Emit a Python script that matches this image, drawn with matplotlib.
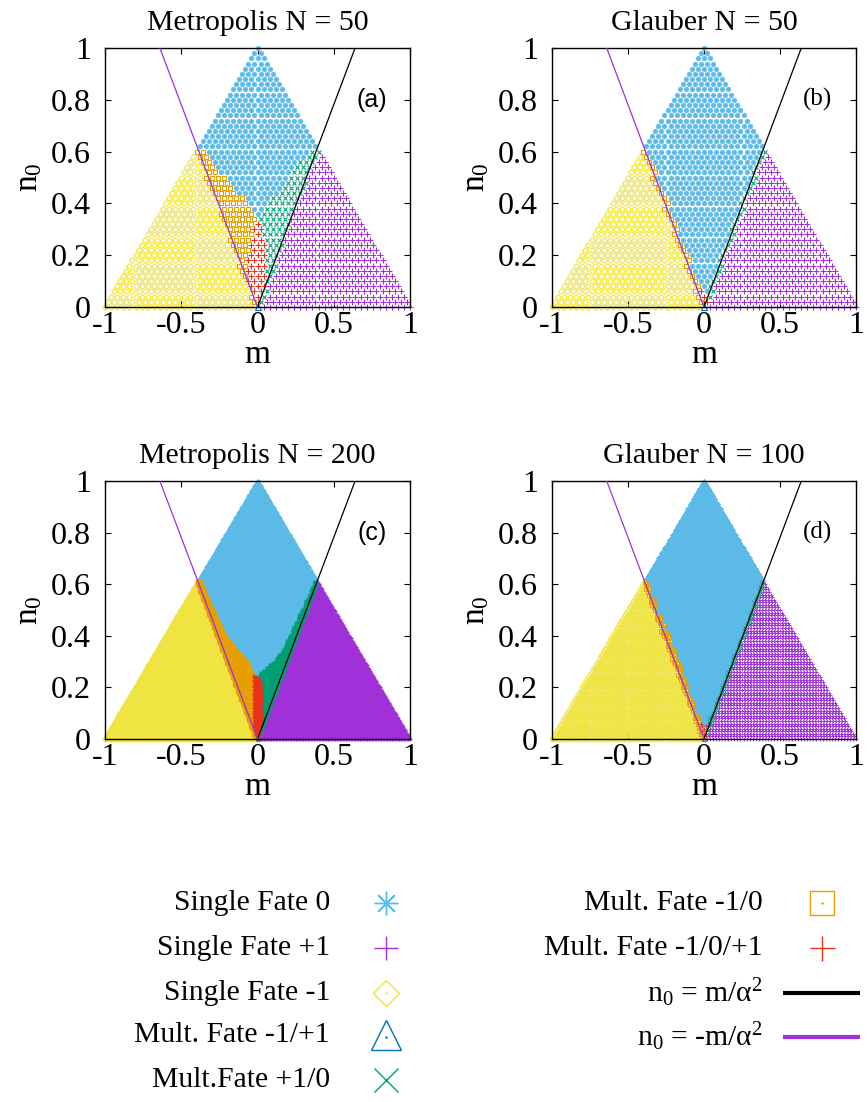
import numpy as np
import matplotlib
matplotlib.use("Agg")
import matplotlib.pyplot as plt

plt.rcParams['font.family'] = ['Liberation Serif', 'DejaVu Serif']
plt.rcParams['mathtext.fontset'] = 'custom'
plt.rcParams['mathtext.rm'] = 'Liberation Serif'
plt.rcParams['mathtext.it'] = 'Liberation Serif:italic'

# ---------------- data ----------------
ALPHA2 = 0.64                      # alpha^2 for the two lines n0 = +-m/alpha^2
TITLES = ['Metropolis N = 50', 'Glauber N = 50', 'Metropolis N = 200', 'Glauber N = 100']
PANEL_LABELS = ['(a)', '(b)', '(c)', '(d)']
SYSTEM_N = [50, 50, 200, 100]
X_TICKS = [-1, -0.5, 0, 0.5, 1]
X_TICK_LABELS = ['-1', '-0.5', '0', '0.5', '1']
Y_TICKS = [0, 0.2, 0.4, 0.6, 0.8, 1]
Y_TICK_LABELS = ['0', '0.2', '0.4', '0.6', '0.8', '1']
N0_TOP_MIXED = 0.61                # above this n0 every state has single fate 0

# region boundaries in m at the n0 knots
# yellow | orange | red | blue | green | purple
KNOTS_A = [0.0, 0.05, 0.1, 0.15, 0.2, 0.25, 0.3, 0.35, 0.4, 0.45, 0.5, 0.55, 0.6]
YO_A = [-0.03, -0.05, -0.085, -0.115, -0.145, -0.175, -0.205, -0.235, -0.275, -0.315, -0.345, -0.375, -0.415]
OR_A = [-0.01, -0.03, -0.065, -0.065, -0.065, -0.045, -0.035, -0.005, -0.045, -0.145, -0.205, -0.305, -0.355]
RB_A = [0.01, 0.035, 0.045, 0.055, 0.055, 0.045, 0.035, -0.005, -0.045, -0.145, -0.205, -0.305, -0.355]
BG_A = [0.01, 0.035, 0.045, 0.055, 0.055, 0.045, 0.035, 0.015, 0.055, 0.145, 0.195, 0.265, 0.335]
GP_A = [0.025, 0.055, 0.085, 0.115, 0.145, 0.165, 0.185, 0.225, 0.265, 0.305, 0.335, 0.375, 0.415]

KNOTS_B = [0.0, 0.05, 0.1, 0.15, 0.2, 0.25, 0.3, 0.35, 0.4, 0.45, 0.5, 0.55, 0.6]
YO_B = [-0.022, -0.054, -0.086, -0.118, -0.15, -0.182, -0.214, -0.246, -0.278, -0.31, -0.342, -0.374, -0.406]
OR_B = [-0.005, -0.015, -0.046, -0.078, -0.11, -0.142, -0.174, -0.206, -0.238, -0.27, -0.302, -0.334, -0.366]
RB_B = [0.025, 0.015, -0.046, -0.078, -0.11, -0.142, -0.174, -0.206, -0.238, -0.27, -0.302, -0.334, -0.366]
BG_B = [0.025, 0.015, 0.046, 0.078, 0.11, 0.142, 0.174, 0.206, 0.238, 0.27, 0.302, 0.334, 0.366]
GP_B = [0.03, 0.054, 0.086, 0.118, 0.15, 0.182, 0.214, 0.246, 0.278, 0.31, 0.342, 0.374, 0.406]

KNOTS_C = [0.0, 0.05, 0.1, 0.15, 0.2, 0.235, 0.25, 0.3, 0.35, 0.4, 0.45, 0.5, 0.55, 0.6]
YO_C = [-0.008, -0.04, -0.072, -0.104, -0.136, -0.158, -0.168, -0.2, -0.232, -0.264, -0.296, -0.328, -0.36, -0.392]
OR_C = [-0.005, -0.02, -0.022, -0.022, -0.022, -0.022, -0.035, -0.075, -0.155, -0.215, -0.255, -0.295, -0.335, -0.372]
RB_C = [0.005, 0.02, 0.03, 0.03, 0.025, 0.015, -0.035, -0.075, -0.155, -0.215, -0.255, -0.295, -0.335, -0.372]
BG_C = [0.005, 0.02, 0.03, 0.03, 0.025, 0.015, 0.015, 0.115, 0.175, 0.215, 0.255, 0.295, 0.335, 0.372]
GP_C = [0.008, 0.035, 0.066, 0.098, 0.13, 0.152, 0.162, 0.194, 0.226, 0.258, 0.29, 0.322, 0.354, 0.386]

KNOTS_D = [0.0, 0.05, 0.1, 0.15, 0.2, 0.25, 0.3, 0.35, 0.4, 0.45, 0.5, 0.55, 0.6]
YO_D = [-0.012, -0.044, -0.076, -0.108, -0.14, -0.172, -0.204, -0.236, -0.268, -0.3, -0.332, -0.364, -0.396]
OR_D = [-0.005, -0.015, -0.05, -0.08, -0.11, -0.14, -0.168, -0.198, -0.228, -0.265, -0.3, -0.338, -0.372]
RB_D = [0.015, 0.012, -0.05, -0.08, -0.11, -0.14, -0.168, -0.198, -0.228, -0.265, -0.3, -0.338, -0.372]
BG_D = [0.01, 0.012, 0.054, 0.086, 0.118, 0.15, 0.182, 0.214, 0.246, 0.278, 0.31, 0.342, 0.374]
GP_D = [0.012, 0.042, 0.074, 0.106, 0.138, 0.17, 0.202, 0.234, 0.266, 0.298, 0.33, 0.362, 0.394]

BOUNDS = [
    (KNOTS_A, YO_A, OR_A, RB_A, BG_A, GP_A),
    (KNOTS_B, YO_B, OR_B, RB_B, BG_B, GP_B),
    (KNOTS_C, YO_C, OR_C, RB_C, BG_C, GP_C),
    (KNOTS_D, YO_D, OR_D, RB_D, BG_D, GP_D),
]

LEGEND_LEFT = ['Single Fate 0', 'Single Fate +1', 'Single Fate -1',
               'Mult. Fate -1/+1', 'Mult.Fate +1/0']
LEGEND_RIGHT = ['Mult. Fate -1/0', 'Mult. Fate -1/0/+1',
                r'n$_0$ = m/α$^2$', r'n$_0$ = -m/α$^2$']

# ---------------- styles ----------------
C_BLUE = '#5cbae9'
C_PURPLE = '#a030d8'
C_YELLOW = '#f0e442'
C_TRI = '#0072b2'
C_GREEN = '#009e73'
C_ORANGE = '#e69f00'
C_RED = '#e8301a'
ASTER = (8, 2, 0)

STYLES = {
    'blue':   dict(marker=ASTER, color=C_BLUE),
    'purple': dict(marker='+', color=C_PURPLE),
    'yellow': dict(marker='D', color=C_YELLOW, mfc='none'),
    'tri':    dict(marker='^', color=C_TRI, mfc='none'),
    'green':  dict(marker='x', color=C_GREEN),
    'orange': dict(marker='s', color=C_ORANGE, mfc='none'),
    'red':    dict(marker='+', color=C_RED),
}
ORDER = ['blue', 'purple', 'yellow', 'tri', 'green', 'orange', 'red']
MS = {50: 3.7, 100: 3.0, 200: 2.6}
MEW = {50: 0.8, 100: 0.65, 200: 0.9}
MS_SCALE = {'yellow': 0.8, 'orange': 0.95, 'tri': 1.0, 'blue': 1.0,
            'purple': 1.0, 'green': 0.95, 'red': 1.05}


def grid_states(N):
    ms, ns = [], []
    for N0 in range(N + 1):
        rest = N - N0
        k = np.arange(-rest, rest + 1, 2)
        ms.append(k / N)
        ns.append(np.full(k.size, N0 / N))
    return np.concatenate(ms), np.concatenate(ns)


def classify(N, knots, yo, orr, rb, bg, gp):
    m, n = grid_states(N)
    mm = m + 1e-7
    A = np.interp(n, knots, yo)
    B = np.interp(n, knots, orr)
    C = np.interp(n, knots, rb)
    D = np.interp(n, knots, bg)
    E = np.interp(n, knots, gp)
    top = n > N0_TOP_MIXED
    tri = (n == 0) & (np.abs(m) < 1e-9)
    low = ~top & ~tri
    cats = {
        'yellow': low & (mm < A),
        'orange': low & (mm >= A) & (mm < B),
        'red':    low & (mm >= B) & (mm < C),
        'blue':   (low & (mm >= C) & (mm < D)) | (top & ~tri),
        'green':  low & (mm >= D) & (mm < E),
        'purple': low & (mm >= E),
        'tri':    tri,
    }
    return m, n, cats


W, H = 867, 1102
fig = plt.figure(figsize=(W / 100, H / 100), dpi=100)

# legend area (pixel coordinates)
lax = fig.add_axes([0, 0, 1, 1], zorder=0)
lax.set_xlim(0, W)
lax.set_ylim(H, 0)
lax.axis('off')

axes_px = [(105, 48, 410, 307), (552, 48, 856, 307),
           (105, 481, 410, 739), (552, 481, 856, 739)]
label_fonts = ['Liberation Sans', 'Liberation Serif', 'Liberation Sans', 'Liberation Serif']

for i, (x0, y0, x1, y1) in enumerate(axes_px):
    ax = fig.add_axes([x0 / W, 1 - y1 / H, (x1 - x0) / W, (y1 - y0) / H], zorder=2)
    N = SYSTEM_N[i]
    m, n, cats = classify(N, *BOUNDS[i])
    for key in ORDER:
        sel = cats[key]
        if not sel.any():
            continue
        st = STYLES[key]
        ms = MS[N] * (MS_SCALE[key] if N == 50 else 1.0)
        ax.plot(m[sel], n[sel], linestyle='none', marker=st['marker'],
                color=st['color'], mfc=st.get('mfc', st['color']),
                ms=ms, mew=MEW[N], clip_on=False, zorder=2)
    nl = np.array([0.0, 1.0])
    ax.plot(ALPHA2 * nl, nl, color='black', lw=0.9, zorder=3)
    ax.plot(-ALPHA2 * nl, nl, color=C_PURPLE, lw=0.9, zorder=3)
    ax.set_xlim(-1, 1)
    ax.set_ylim(0, 1)
    ax.set_xticks(X_TICKS)
    ax.set_xticklabels(X_TICK_LABELS)
    ax.set_yticks(Y_TICKS)
    ax.set_yticklabels(Y_TICK_LABELS)
    ax.tick_params(direction='in', length=4, width=0.8, top=True, right=True,
                   labelsize=23)
    ax.tick_params(axis='x', pad=3)
    ax.tick_params(axis='y', pad=10)
    for sp in ax.spines.values():
        sp.set_linewidth(1.0)
    ax.set_title(TITLES[i], fontsize=21.5, pad=13)
    ax.set_xlabel('m', fontsize=24)
    ax.xaxis.set_label_coords(0.5, -0.125)
    ax.set_ylabel(r'n$_0$', fontsize=24)
    ax.yaxis.set_label_coords(-0.20, 0.5)
    ax.text(0.75, 0.8, PANEL_LABELS[i], fontsize=18, family=label_fonts[i],
            ha='center', va='center')

# legend, left column
left_rows = [903, 948, 993, 1035, 1080]
left_keys = ['blue', 'purple', 'yellow', 'tri', 'green']
for lab, yy, key in zip(LEGEND_LEFT, left_rows, left_keys):
    lax.text(330, yy, lab, fontsize=21.3, ha='right', va='center')
    st = STYLES[key]
    ms = 22 if key == 'tri' else 17
    if key == 'yellow':
        ms = 13
    lax.plot([386], [yy], linestyle='none', marker=st['marker'], color=st['color'],
             mfc=st.get('mfc', st['color']), ms=ms, mew=1.0)
    if key in ('yellow', 'tri'):
        lax.plot([386], [yy + (2 if key == 'tri' else 0)], linestyle='none', marker='.',
                 color=st['color'], ms=1.5)

right_rows = [903, 948, 993, 1037]
for j, (lab, yy) in enumerate(zip(LEGEND_RIGHT, right_rows)):
    lax.text(763, yy, lab, fontsize=21.3, ha='right', va='center')
    if j == 0:
        st = STYLES['orange']
        lax.plot([822], [yy], linestyle='none', marker='s', color=st['color'],
                 mfc='none', ms=17, mew=1.0)
        lax.plot([822], [yy], linestyle='none', marker='.', color=st['color'], ms=1.5)
    elif j == 1:
        lax.plot([822], [yy], linestyle='none', marker='+', color=C_RED, ms=18, mew=1.0)
    else:
        col = 'black' if j == 2 else C_PURPLE
        lax.plot([783, 860], [yy, yy], color=col, lw=3.0, solid_capstyle='butt')

fig.savefig('out.png', dpi=100)
